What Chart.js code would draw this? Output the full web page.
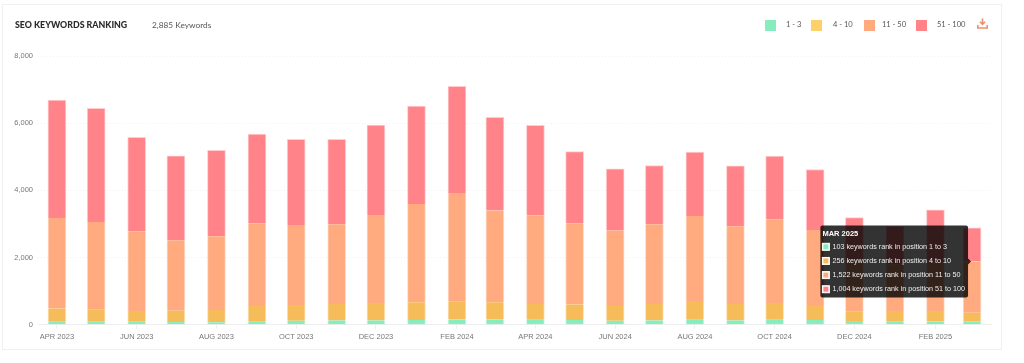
<!DOCTYPE html>
<html>
<head>
<meta charset="utf-8">
<title>SEO Keywords Ranking</title>
<script src="https://cdn.jsdelivr.net/npm/chart.js@4"></script>
<style>
    html, body { margin: 0; padding: 0; background: #fff; }
    body { width: 1024px; height: 363px; position: relative; overflow: hidden; font-family: Lato, sans-serif; }
    .card { position: absolute; left: 2px; top: 4px; width: 998px; height: 344px; border: 1px solid #f0f0f0; }
    .title { position: absolute; left: 15px; top: 19px; font-size: 8.8px; font-weight: 900; color: #2b2b2b; line-height: 12px; }
    .count { position: absolute; left: 152px; top: 19px; font-size: 8.3px; color: #555; line-height: 12px; }
    .legend-item { position: absolute; top: 20px; height: 11px; font-size: 7.5px; color: #555; line-height: 10px; white-space: nowrap; }
    .legend-item i { position: absolute; left: 0; top: 0; width: 11px; height: 11px; }
    .legend-item span { position: absolute; top: 0; }
    .download { position: absolute; left: 977px; top: 18px; }
    #chartBox { position: absolute; left: 0; top: 0; width: 1024px; height: 363px; }
</style>
</head>
<body>
<div class="card"></div>
<div id="chartBox"><canvas id="rankingChart"></canvas></div>
<div class="title">SEO KEYWORDS RANKING</div>
<div class="count">2,885 Keywords</div>
<div id="legend"></div>
<svg class="download" width="11" height="12" viewBox="0 0 11 12">
    <path d="M5.5 0.5v5M3 3.8l2.5 2.5L8 3.8" fill="none" stroke="#f0906a" stroke-width="1.6"/>
    <path d="M0.8 7v3h9.4V7" fill="none" stroke="#f0906a" stroke-width="1.6"/>
</svg>
<script>
// Months on the axis
const months = ['2023-04-01', '2023-05-01', '2023-06-01', '2023-07-01', '2023-08-01', '2023-09-01',
    '2023-10-01', '2023-11-01', '2023-12-01', '2024-01-01', '2024-02-01', '2024-03-01',
    '2024-04-01', '2024-05-01', '2024-06-01', '2024-07-01', '2024-08-01', '2024-09-01',
    '2024-10-01', '2024-11-01', '2024-12-01', '2025-01-01', '2025-02-01', '2025-03-01'];
const monthNames = ['JAN', 'FEB', 'MAR', 'APR', 'MAY', 'JUN', 'JUL', 'AUG', 'SEP', 'OCT', 'NOV', 'DEC'];
const tickMonths = ['2023-04-01', '2023-06-01', '2023-08-01', '2023-10-01', '2023-12-01', '2024-02-01',
    '2024-04-01', '2024-06-01', '2024-08-01', '2024-10-01', '2024-12-01', '2025-02-01'];

// Series values
const rank1to3 = [90, 90, 90, 80, 75, 90, 120, 128, 128, 137, 158, 158,
    149, 137, 119, 128, 149, 128, 149, 137, 107, 90, 98, 103];
const rank4to10 = [396, 357, 316, 337, 361, 465, 464, 486, 516, 528, 528, 507,
    465, 468, 436, 486, 555, 486, 495, 418, 281, 316, 308, 256];
const rank11to50 = [2692, 2612, 2376, 2096, 2197, 2465, 2386, 2376, 2624, 2931, 3238, 2734,
    2645, 2406, 2248, 2376, 2534, 2317, 2495, 2265, 1469, 1392, 1451, 1522];
const rank51to100 = [3509, 3381, 2793, 2514, 2555, 2654, 2546, 2526, 2674, 2911, 3172, 2773,
    2674, 2147, 1836, 1751, 1899, 1798, 1879, 1801, 1333, 1132, 1560, 1004];

const seriesNames = ['1 - 3', '4 - 10', '11 - 50', '51 - 100'];
const seriesRanges = ['1 to 3', '4 to 10', '11 to 50', '51 to 100'];
const seriesColors = ['#87edbe', '#f7bc5a', '#ffab7f', '#ff8389'];
const seriesValues = [rank1to3, rank4to10, rank11to50, rank51to100];

// Legend swatch colours differ a little from the bars
const legendColors = ['#87edbe', '#fdd169', '#ffab7f', '#ff8389'];
const legendSwatchX = [765, 811, 864, 916];
const legendTextGap = [21, 22, 18, 21];

const DAY = 86400000;
const toDay = (d) => Date.parse(d) / DAY;
const monthLabel = (day) => {
    const d = new Date(day * DAY);
    return monthNames[d.getUTCMonth()] + ' ' + d.getUTCFullYear();
};

// Legend
const legendBox = document.getElementById('legend');
seriesNames.forEach((name, i) => {
    const item = document.createElement('div');
    item.className = 'legend-item';
    item.style.left = legendSwatchX[i] + 'px';
    item.innerHTML = `<i style="background:${legendColors[i]}"></i><span style="left:${legendTextGap[i]}px">${name}</span>`;
    legendBox.appendChild(item);
});

// Tooltip sits on the top of the 11-50 segment
Chart.Tooltip.positioners.rankTop = function (items) {
    if (!items.length) return false;
    const el = items[2] ? items[2].element : items[0].element;
    return { x: el.x, y: el.y };
};

const chart = new Chart(document.getElementById('rankingChart').getContext('2d'), {
    type: 'bar',
    data: {
        datasets: seriesNames.map((name, i) => ({
            label: name,
            data: months.map((m, j) => ({ x: toDay(m), y: seriesValues[i][j] })),
            backgroundColor: seriesColors[i],
            hoverBackgroundColor: seriesColors[i],
            borderColor: seriesColors[i] + '66',
            hoverBorderColor: seriesColors[i] + '66',
            // pale edge on the sides, and on top of the whole stack only
            borderWidth: { left: 1, right: 1, top: i === 3 ? 1 : 0, bottom: 0 },
            borderSkipped: false,
            barThickness: 18
        }))
    },
    options: {
        responsive: true,
        maintainAspectRatio: false,
        animation: false,
        layout: { padding: { left: 0, right: 33, top: 56, bottom: 17.3 } },
        plugins: {
            legend: { display: false },
            tooltip: {
                enabled: true,
                mode: 'index',
                position: 'rankTop',
                xAlign: 'right',
                yAlign: 'center',
                backgroundColor: 'rgba(0,0,0,0.8)',
                cornerRadius: 2,
                caretSize: 3,
                caretPadding: 1,
                padding: { left: 2, right: 3, top: 4, bottom: 4 },
                titleFont: { family: 'Liberation Sans', size: 7.5, weight: 'bold' },
                titleColor: '#fff',
                titleMarginBottom: 4,
                bodyFont: { family: 'Liberation Sans', size: 7.2 },
                bodyColor: '#eee',
                bodySpacing: 5.5,
                boxWidth: 7,
                boxHeight: 7,
                boxPadding: 1,
                callbacks: {
                    title: (items) => monthLabel(items[0].parsed.x),
                    label: (item) => item.parsed.y.toLocaleString('en-US') + ' keywords rank in position ' + seriesRanges[item.datasetIndex],
                    labelColor: (item) => ({ borderColor: '#fff', backgroundColor: seriesColors[item.datasetIndex], borderWidth: 1 })
                }
            }
        },
        scales: {
            x: {
                type: 'linear',
                stacked: true,
                offset: false,
                min: toDay(months[0]) - 14.5,
                max: toDay(months[months.length - 1]) + 14.5,
                afterBuildTicks: (scale) => {
                    scale.ticks = tickMonths.map((m) => ({ value: toDay(m) }));
                },
                grid: { offset: false, drawOnChartArea: false, color: '#eeeeee', tickLength: 4 },
                border: { color: '#eeeeee' },
                ticks: {
                    autoSkip: false,
                    maxRotation: 0,
                    color: '#777',
                    padding: 4,
                    font: { family: 'Liberation Sans', size: 7.5 },
                    callback: (value) => monthLabel(value)
                }
            },
            y: {
                stacked: true,
                min: 0,
                max: 8000,
                grid: { color: '#f1f1f1', drawTicks: false },
                border: { display: false, dash: [1, 2] },
                afterBuildTicks: (scale) => {
                    scale.ticks = [0, 2000, 4000, 6000, 8000].map((value) => ({ value }));
                },
                afterFit: (scale) => { scale.width = 38; },
                ticks: {
                    color: '#777',
                    padding: 5,
                    font: { family: 'Liberation Sans', size: 7.5 },
                    callback: (value) => value.toLocaleString('en-US')
                }
            }
        }
    }
});

// Show the tooltip for the last month
const lastIndex = months.length - 1;
const activeBars = seriesNames.map((name, i) => ({ datasetIndex: i, index: lastIndex }));
chart.tooltip.setActiveElements(activeBars, { x: 0, y: 0 });
chart.update('none');
</script>
</body>
</html>
